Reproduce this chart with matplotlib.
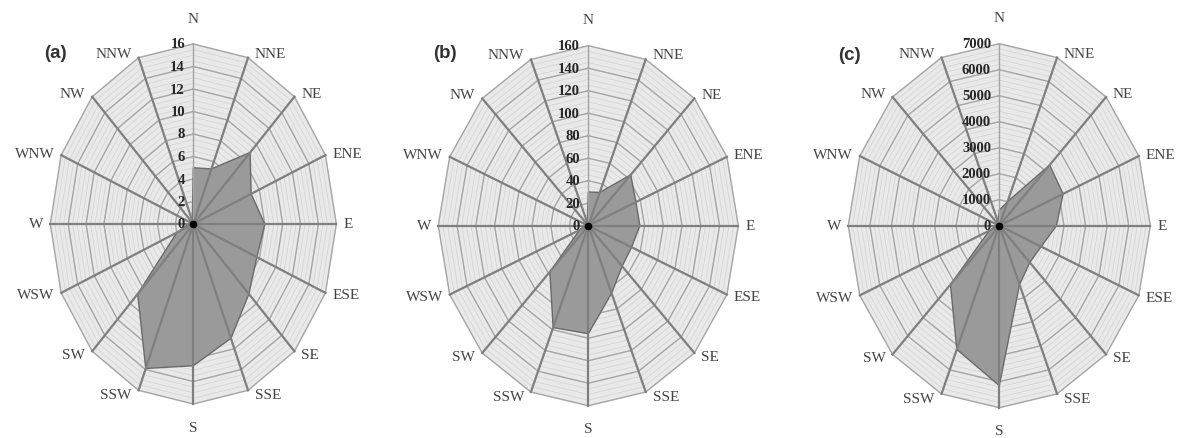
import numpy as np
import matplotlib
matplotlib.use('Agg')
import matplotlib.pyplot as plt

directions = ['N', 'NNE', 'NE', 'ENE', 'E', 'ESE', 'SE', 'SSE',
              'S', 'SSW', 'SW', 'WSW', 'W', 'WNW', 'NW', 'NNW']
values_a = [5, 5.3, 9, 7, 8, 7.7, 8.8, 11, 12.6, 13.9, 8.8, 2, 0.5, 0.3, 0.3, 0.3]
values_b = [30, 32, 64, 55, 55, 50, 51, 65, 96, 98, 58, 10, 4, 3, 3, 3]
values_c = [600, 1000, 3300, 3200, 2650, 2100, 2000, 2450, 6150, 5150, 3200, 500, 150, 100, 100, 150]
ticks_a = [0, 2, 4, 6, 8, 10, 12, 14, 16]
ticks_b = [0, 20, 40, 60, 80, 100, 120, 140, 160]
ticks_c = [0, 1000, 2000, 3000, 4000, 5000, 6000, 7000]
minor_step = [0.5, 5, 200]
panel_labels = ['(a)', '(b)', '(c)']

W, H = 1180, 439
fig = plt.figure(figsize=(W / 100, H / 100), dpi=100)

# (center x, center y from top, half width, half height) in pixels
geoms = [(193.3, 225.0, 143, 180), (588.3, 226.7, 150, 180), (999.3, 226.7, 151, 182)]
label_pos = [(55, 53), (445, 53), (849, 55)]

serif = ['Liberation Serif', 'DejaVu Serif']
datas = [values_a, values_b, values_c]
tickss = [ticks_a, ticks_b, ticks_c]

theta = np.deg2rad(np.arange(len(directions)) * 22.5)
tc = np.append(theta, theta[0])

for k in range(3):
    cx, cy, hw, hh = geoms[k]
    ax = fig.add_axes([(cx - hw) / W, (H - cy - hh) / H, 2 * hw / W, 2 * hh / H],
                      projection='polar')
    ax.set_aspect('auto')
    ax.set_theta_zero_location('N')
    ax.set_theta_direction(-1)
    ticks = tickss[k]
    rmax = ticks[-1]
    ax.set_ylim(0, rmax)
    ax.grid(False)
    ax.spines['polar'].set_visible(False)
    ax.set_xticks([])
    ax.set_yticks([])
    ax.patch.set_alpha(0)

    ax.fill(tc, [rmax] * len(tc), color='#e9e9e9', zorder=0, clip_on=False)
    for r in np.arange(minor_step[k], rmax, minor_step[k]):
        ax.plot(tc, [r] * len(tc), color='#d2d2d2', lw=0.5, zorder=1, clip_on=False)
    for r in ticks[1:]:
        ax.plot(tc, [r] * len(tc), color='#a6a6a6', lw=1.0, zorder=1, clip_on=False)

    vals = datas[k]
    ax.fill(tc, vals + [vals[0]], facecolor='#9a9a9a', edgecolor='#6a6a6a',
            lw=1.0, zorder=2, clip_on=False)

    for i, t in enumerate(theta):
        if i == 0:
            ax.plot([t, t], [0, rmax], color='#a4a4a4', lw=1.0, zorder=3, clip_on=False)
        else:
            ax.plot([t, t], [0, rmax], color='#7f7f7f', lw=1.6, zorder=3, clip_on=False)
    ax.plot([0], [0], 'o', color='black', ms=4.5, zorder=5, clip_on=False)

    for v in ticks:
        ax.annotate(f'{v}', xy=(0, v), xytext=(-6, 0), textcoords='offset points',
                    ha='right', va='center', fontsize=10.5, fontweight='bold',
                    family=serif, color='#262626', zorder=6)

    for i, (t, name) in enumerate(zip(theta, directions)):
        s, c = np.sin(t), np.cos(t)
        if i == 0:
            off, ha, va = (0, 14), 'center', 'bottom'
        elif i == 8:
            off, ha, va = (0, -12), 'center', 'top'
        elif i < 8:
            off, ha, va = (5, c * 3.5), 'left', 'center'
        else:
            off, ha, va = (-5, c * 3.5), 'right', 'center'
        ax.annotate(name, xy=(t, rmax), xytext=off, textcoords='offset points',
                    ha=ha, va=va, fontsize=11, family=serif, color='#444444',
                    annotation_clip=False)

    lx, ly = label_pos[k]
    fig.text(lx / W, 1 - ly / H, panel_labels[k], ha='center', va='center',
             fontsize=13.5, fontweight='bold', family=['Liberation Sans', 'DejaVu Sans'],
             color='#333333')

fig.savefig('out.png', dpi=100, facecolor='white')
